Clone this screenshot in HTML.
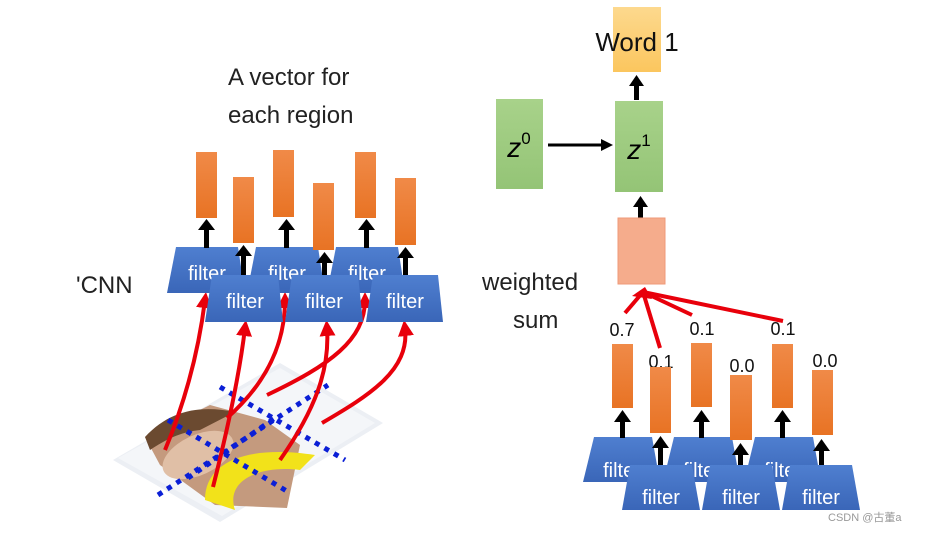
<!DOCTYPE html>
<html><head><meta charset="utf-8"><style>
html,body{margin:0;padding:0;background:#fff;}
svg{display:block;}
text{font-family:"Liberation Sans","DejaVu Sans",sans-serif;}
</style></head><body>
<svg width="925" height="534" viewBox="0 0 925 534" xmlns="http://www.w3.org/2000/svg">
<defs>
<linearGradient id="og" x1="0" y1="0" x2="0" y2="1"><stop offset="0" stop-color="#f08a48"/><stop offset="1" stop-color="#e87324"/></linearGradient>
<linearGradient id="bg" x1="0" y1="0" x2="0" y2="1"><stop offset="0" stop-color="#4f7fd0"/><stop offset="1" stop-color="#3a66b8"/></linearGradient>
<linearGradient id="yg" x1="0" y1="0" x2="0" y2="1"><stop offset="0" stop-color="#fdd98e"/><stop offset="1" stop-color="#fbc65e"/></linearGradient>
<linearGradient id="gg" x1="0" y1="0" x2="0" y2="1"><stop offset="0" stop-color="#a8d28a"/><stop offset="1" stop-color="#94c476"/></linearGradient>
<marker id="ra" viewBox="0 0 10 10" refX="5" refY="5" markerWidth="4" markerHeight="4" orient="auto"><path d="M0,0 L10,5 L0,10 z" fill="#e8000b"/></marker>
</defs>

<text x="228" y="85" font-size="24" fill="#222">A vector for</text>
<text x="228" y="123" font-size="24" fill="#222">each region</text>
<text x="76" y="293" font-size="24" fill="#222">'CNN</text>

<!-- image -->
<polygon points="113,460 280,363 383,423 220,522" fill="#eceff4"/>
<polygon points="118,458 280,368 375,423 222,516" fill="#f4f6f9"/>
<polygon points="145,437 210,405 265,420 300,445 287,508 215,505 160,465" fill="#c49a7e"/>
<path d="M145,437 C170,410 200,405 235,412 L200,430 C180,432 165,440 150,450 Z" fill="#6b4a30"/>
<ellipse cx="198" cy="455" rx="38" ry="20" fill="#e0bfa6" transform="rotate(-25 198 455)"/>
<path d="M205,500 C205,460 250,445 315,455 L300,470 C260,465 225,480 235,510 Z" fill="#f2e21a"/>
<g stroke="#0b1fd6" stroke-width="5" stroke-dasharray="5,6" fill="none">
<line x1="220" y1="387" x2="345" y2="460"/>
<line x1="168" y1="420" x2="290" y2="493"/>
<line x1="158" y1="495" x2="328" y2="385"/>
<line x1="188" y1="478" x2="275" y2="418"/>
</g>
<g stroke="#e8000b" stroke-width="4" fill="none" marker-end="url(#ra)">
<path d="M165,450 C190,390 200,340 205,300"/>
<path d="M213,487 C230,420 240,370 245,328"/>
<path d="M227,418 C270,380 285,340 285,300"/>
<path d="M280,460 C315,410 330,370 327,328"/>
<path d="M267,395 C330,365 365,340 365,300"/>
<path d="M322,423 C370,395 410,370 405,328"/>
</g>

<g fill="url(#bg)">
<polygon points="176,247 238,247 245,293 167,293"/>
<polygon points="256,247 318,247 325,293 247,293"/>
<polygon points="336,247 398,247 405,293 327,293"/>
</g>
<g fill="#fff" font-size="20" text-anchor="middle">
<text x="207" y="280">filter</text><text x="287" y="280">filter</text><text x="367" y="280">filter</text>
</g>
<g fill="url(#og)">
<rect x="196" y="152" width="21" height="66"/>
<rect x="233" y="177" width="21" height="66"/>
<rect x="273" y="150" width="21" height="67"/>
<rect x="313" y="183" width="21" height="67"/>
<rect x="355" y="152" width="21" height="66"/>
<rect x="395" y="178" width="21" height="67"/>
</g>
<g fill="#000">
<rect x="204" y="228" width="5" height="20"/><polygon points="198,230 215,230 206.5,219"/>
<rect x="284" y="228" width="5" height="20"/><polygon points="278,230 295,230 286.5,219"/>
<rect x="364" y="228" width="5" height="20"/><polygon points="358,230 375,230 366.5,219"/>
<rect x="241" y="254" width="5" height="22"/><polygon points="235,256 252,256 243.5,245"/>
<rect x="322" y="261" width="5" height="15"/><polygon points="316,263 333,263 324.5,252"/>
<rect x="403" y="256" width="5" height="20"/><polygon points="397,258 414,258 405.5,247"/>
</g>
<g fill="url(#bg)">
<polygon points="212,275 278,275 283,322 205,322"/>
<polygon points="292,275 358,275 363,322 285,322"/>
<polygon points="373,275 438,275 443,322 366,322"/>
</g>
<g fill="#fff" font-size="20" text-anchor="middle">
<text x="245" y="308">filter</text><text x="324" y="308">filter</text><text x="405" y="308">filter</text>
</g>

<!-- right -->
<rect x="613" y="7" width="48" height="65" fill="url(#yg)"/>
<text x="637" y="51" font-size="26" fill="#111" text-anchor="middle">Word 1</text>
<rect x="634" y="84" width="5" height="16" fill="#000"/><polygon points="629,86 644,86 636.5,75" fill="#000"/>
<rect x="496" y="99" width="47" height="90" fill="url(#gg)"/>
<rect x="615" y="101" width="48" height="91" fill="url(#gg)"/>
<text x="519" y="157" font-size="28" font-style="italic" font-family="Liberation Serif,serif" text-anchor="middle">z<tspan font-size="17" dy="-13" font-style="normal">0</tspan></text>
<text x="639" y="159" font-size="28" font-style="italic" font-family="Liberation Serif,serif" text-anchor="middle">z<tspan font-size="17" dy="-13" font-style="normal">1</tspan></text>
<line x1="548" y1="145" x2="603" y2="145" stroke="#000" stroke-width="3"/><polygon points="601,139 613,145 601,151" fill="#000"/>
<rect x="638" y="205" width="5" height="15" fill="#000"/><polygon points="633,207 648,207 640.5,196" fill="#000"/>
<rect x="618" y="218" width="47" height="66" fill="#f5ac8c" stroke="#ef9a78"/>
<text x="482" y="290" font-size="24" fill="#222">weighted</text>
<text x="513" y="328" font-size="24" fill="#222">sum</text>
<g stroke="#e8000b" stroke-width="4" fill="none">
<line x1="625" y1="313" x2="643" y2="292"/>
<line x1="660" y1="348" x2="643" y2="292"/>
<line x1="692" y1="315" x2="643" y2="292"/>
<line x1="783" y1="321" x2="643" y2="292"/>
</g>
<polygon points="632,296 645,287 652,299" fill="#e8000b"/>
<g font-size="18" fill="#111" text-anchor="middle">
<text x="622" y="336">0.7</text><text x="661" y="368">0.1</text><text x="702" y="335">0.1</text>
<text x="742" y="372">0.0</text><text x="783" y="335">0.1</text><text x="825" y="367">0.0</text>
</g>
<g fill="url(#bg)">
<polygon points="594,437 652,437 660,482 583,482"/>
<polygon points="674,437 732,437 740,482 663,482"/>
<polygon points="755,437 813,437 821,482 744,482"/>
</g>
<g fill="#fff" font-size="20" text-anchor="middle">
<text x="622" y="477">filter</text><text x="702" y="477">filter</text><text x="783" y="477">filter</text>
</g>
<g fill="url(#og)">
<rect x="612" y="344" width="21" height="64"/>
<rect x="650" y="367" width="21" height="66"/>
<rect x="691" y="343" width="21" height="64"/>
<rect x="730" y="375" width="22" height="65"/>
<rect x="772" y="344" width="21" height="64"/>
<rect x="812" y="370" width="21" height="65"/>
</g>
<g fill="#000">
<rect x="620" y="420" width="5" height="18"/><polygon points="614,422 631,422 622.5,410"/>
<rect x="699" y="420" width="5" height="18"/><polygon points="693,422 710,422 701.5,410"/>
<rect x="780" y="420" width="5" height="18"/><polygon points="774,422 791,422 782.5,410"/>
<rect x="658" y="446" width="5" height="20"/><polygon points="652,448 669,448 660.5,436"/>
<rect x="738" y="453" width="5" height="13"/><polygon points="732,455 749,455 740.5,443"/>
<rect x="819" y="449" width="5" height="17"/><polygon points="813,451 830,451 821.5,439"/>
</g>
<g fill="url(#bg)">
<polygon points="630,465 692,465 700,510 622,510"/>
<polygon points="710,465 772,465 780,510 702,510"/>
<polygon points="790,465 852,465 860,510 782,510"/>
</g>
<g fill="#fff" font-size="20" text-anchor="middle">
<text x="661" y="504">filter</text><text x="741" y="504">filter</text><text x="821" y="504">filter</text>
</g>
<text x="828" y="521" font-size="11" fill="#999" font-family="Liberation Sans,'Noto Sans CJK SC',sans-serif">CSDN @古董a</text>
</svg>
</body></html>
